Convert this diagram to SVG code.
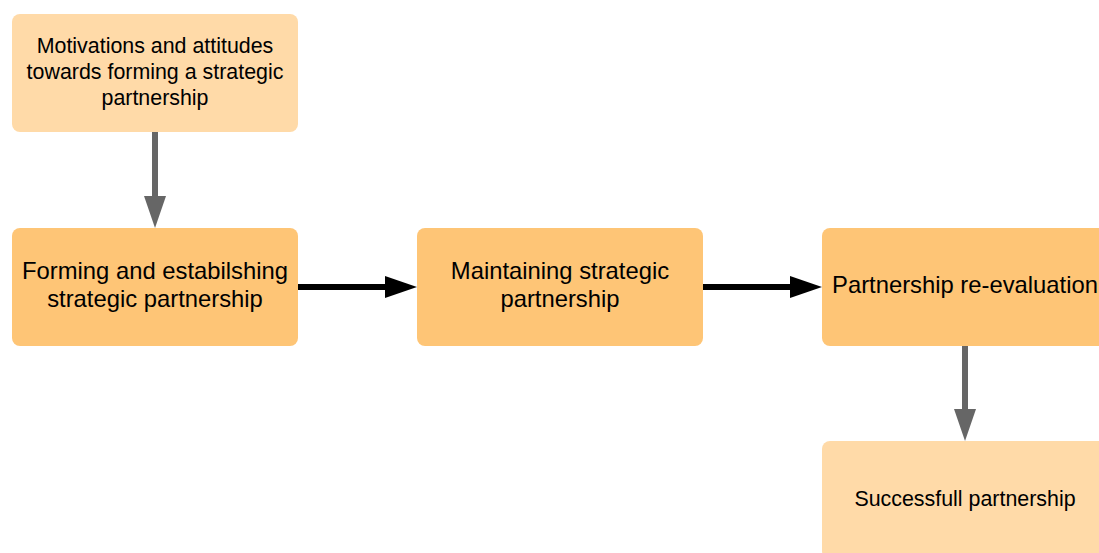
<svg xmlns="http://www.w3.org/2000/svg" width="1099" height="553" viewBox="0 0 1099 553">
<style>
.light{fill:#FFDAA8;}
.dark{fill:#FEC576;}
text{font-family:"Liberation Sans",Arial,sans-serif;fill:#000;text-anchor:middle;}
.t18{font-size:21.4px;}
.t20{font-size:23.8px;}
.gray{stroke:#666666;stroke-width:6;fill:none;}
.black{stroke:#000000;stroke-width:6;fill:none;}
</style>
<defs>
<marker id="ag" markerUnits="userSpaceOnUse" markerWidth="32" markerHeight="22" refX="1" refY="11" orient="auto">
<path d="M0,0 L32,11 L0,22 Z" fill="#666666"/>
</marker>
<marker id="ab" markerUnits="userSpaceOnUse" markerWidth="32" markerHeight="22" refX="1" refY="11" orient="auto">
<path d="M0,0 L32,11 L0,22 Z" fill="#000000"/>
</marker>
</defs>
<rect width="1099" height="553" fill="#ffffff"/>
<g id="connectors">
<line class="gray" x1="155" y1="132" x2="155" y2="197" marker-end="url(#ag)"/>
<line class="black" x1="298" y1="287" x2="386" y2="287" marker-end="url(#ab)"/>
<line class="black" x1="703" y1="287" x2="791" y2="287" marker-end="url(#ab)"/>
<line class="gray" x1="965" y1="346" x2="965" y2="410" marker-end="url(#ag)"/>
</g>
<g id="motivations">
<rect class="light" x="12" y="14" width="286" height="118" rx="8"/>
<text class="t18" x="155" y="53">Motivations and attitudes</text>
<text class="t18" x="155" y="79">towards forming a strategic</text>
<text class="t18" x="155" y="105">partnership</text>
</g>
<g id="forming">
<rect class="dark" x="12" y="228" width="286" height="118" rx="8"/>
<text class="t20" x="155" y="279">Forming and estabilshing</text>
<text class="t20" x="155" y="307">strategic partnership</text>
</g>
<g id="maintaining">
<rect class="dark" x="417" y="228" width="286" height="118" rx="8"/>
<text class="t20" x="560" y="279">Maintaining strategic</text>
<text class="t20" x="560" y="307">partnership</text>
</g>
<g id="reevaluation">
<rect class="dark" x="822" y="228" width="286" height="118" rx="8"/>
<text class="t20" x="965" y="293">Partnership re-evaluation</text>
</g>
<g id="successful">
<rect class="light" x="822" y="441" width="286" height="118" rx="8"/>
<text class="t18" x="965" y="506">Successfull partnership</text>
</g>
</svg>
